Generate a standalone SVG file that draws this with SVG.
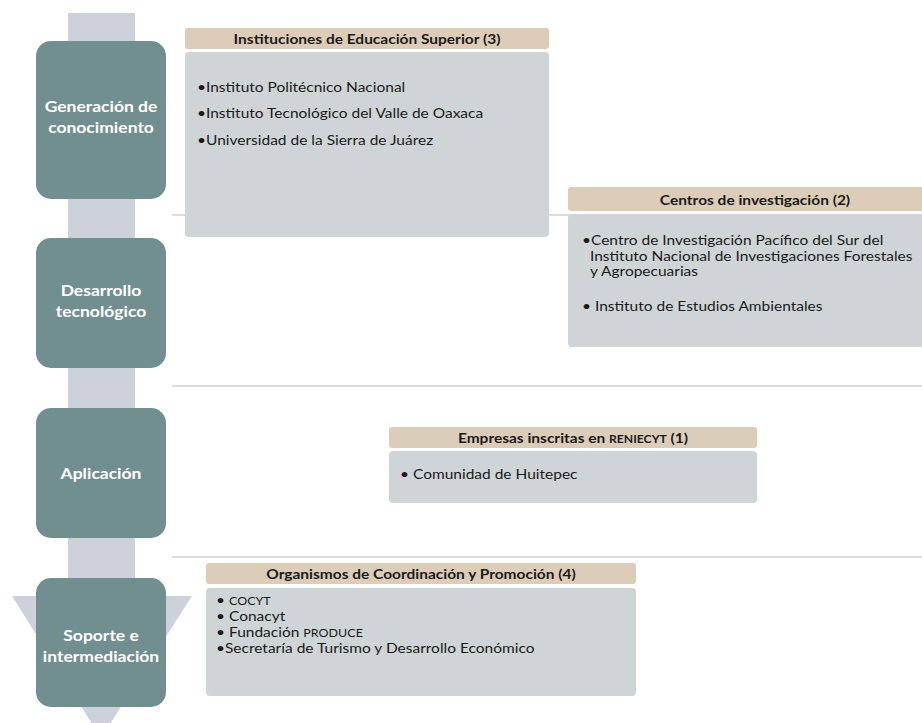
<svg xmlns="http://www.w3.org/2000/svg" width="922" height="723" viewBox="0 0 922 723">
<style>
.node rect{fill:#728f8f}
.nt{font-family:Lato,"Open Sans","Liberation Sans",sans-serif;font-weight:bold;font-size:16px;fill:#ffffff;text-anchor:middle}
.hd{fill:#dccdb9}
.bd{fill:#cfd4d7}
.ht{font-family:Lato,"Open Sans","Liberation Sans",sans-serif;font-weight:bold;font-size:14px;fill:#1a1a1a;text-anchor:middle}
.bt{font-family:Lato,"Open Sans","Liberation Sans",sans-serif;font-size:13px;fill:#1a1a1a}
.sep{stroke:#d0d0d0;stroke-width:1.3;fill:none}
.sc{font-size:10.5px}
.hsc{font-size:11px}
</style>
<path id="backbone" d="M68,13 H135 V596 H192 L101,738 L12,596 H68 Z" fill="#cdd2da"/>
<g id="connectors">
<line class="sep" x1="172" y1="215" x2="922" y2="215"/>
<line class="sep" x1="172" y1="386" x2="922" y2="386"/>
<line class="sep" x1="172" y1="557" x2="922" y2="557"/>
</g>
<g id="node-generacion" class="node">
<rect x="36" y="41" width="130" height="158" rx="15"/>
<text class="nt" transform="matrix(1.094 0 0 1 101 112)">Generación de<tspan x="0" dy="21">conocimiento</tspan></text>
</g>
<g id="node-desarrollo" class="node">
<rect x="36" y="238" width="130" height="130" rx="15"/>
<text class="nt" transform="matrix(1.094 0 0 1 101 296)">Desarrollo<tspan x="0" dy="21">tecnológico</tspan></text>
</g>
<g id="node-aplicacion" class="node">
<rect x="36" y="408" width="130" height="130" rx="15"/>
<text class="nt" transform="matrix(1.094 0 0 1 101 479)">Aplicación</text>
</g>
<g id="node-soporte" class="node">
<rect x="36" y="578" width="130" height="129" rx="15"/>
<text class="nt" transform="matrix(1.094 0 0 1 101 641)">Soporte e<tspan x="0" dy="21">intermediación</tspan></text>
</g>
<g id="box-ies">
<rect class="hd" x="185" y="28" width="364" height="21" rx="3"/>
<text class="ht" transform="matrix(1.107 0 0 1 367 43.5)">Instituciones de Educación Superior (3)</text>
<rect class="bd" x="185" y="52" width="364" height="185" rx="4"/>
<text class="bt" transform="matrix(1.192 0 0 1 197 92)">•Instituto Politécnico Nacional</text>
<text class="bt" transform="matrix(1.192 0 0 1 197 118)">•Instituto Tecnológico del Valle de Oaxaca</text>
<text class="bt" transform="matrix(1.192 0 0 1 197 145)">•Universidad de la Sierra de Juárez</text>
</g>
<g id="box-centros">
<rect class="hd" x="568" y="187" width="374" height="24" rx="3"/>
<text class="ht" transform="matrix(1.107 0 0 1 755 204.5)">Centros de investigación (2)</text>
<rect class="bd" x="568" y="214" width="374" height="133" rx="4"/>
<text class="bt" transform="matrix(1.192 0 0 1 582 245)">•Centro de Investigación Pacífico del Sur del<tspan x="6.7" dy="15.7">Instituto Nacional de Investigaciones Forestales</tspan><tspan x="6.7" dy="15.7">y Agropecuarias</tspan></text>
<text class="bt" transform="matrix(1.192 0 0 1 582 311)">• Instituto de Estudios Ambientales</text>
</g>
<g id="box-empresas">
<rect class="hd" x="389" y="427" width="368" height="21" rx="3"/>
<text class="ht" transform="matrix(1.107 0 0 1 573 442.5)">Empresas inscritas en <tspan class="hsc">RENIECYT</tspan> (1)</text>
<rect class="bd" x="389" y="451" width="368" height="52" rx="4"/>
<text class="bt" transform="matrix(1.192 0 0 1 400 479)">•  Comunidad de Huitepec</text>
</g>
<g id="box-organismos">
<rect class="hd" x="206" y="563" width="430" height="21" rx="3"/>
<text class="ht" transform="matrix(1.107 0 0 1 421 578.5)">Organismos de Coordinación y Promoción (4)</text>
<rect class="bd" x="206" y="588" width="430" height="108" rx="4"/>
<text class="bt" transform="matrix(1.192 0 0 1 216 605)">• <tspan class="sc">COCYT</tspan><tspan x="0" dy="16">• Conacyt</tspan><tspan x="0" dy="16">• Fundación </tspan><tspan class="sc">PRODUCE</tspan><tspan x="0" dy="16">•Secretaría de Turismo y Desarrollo Económico</tspan></text>
</g>
</svg>
